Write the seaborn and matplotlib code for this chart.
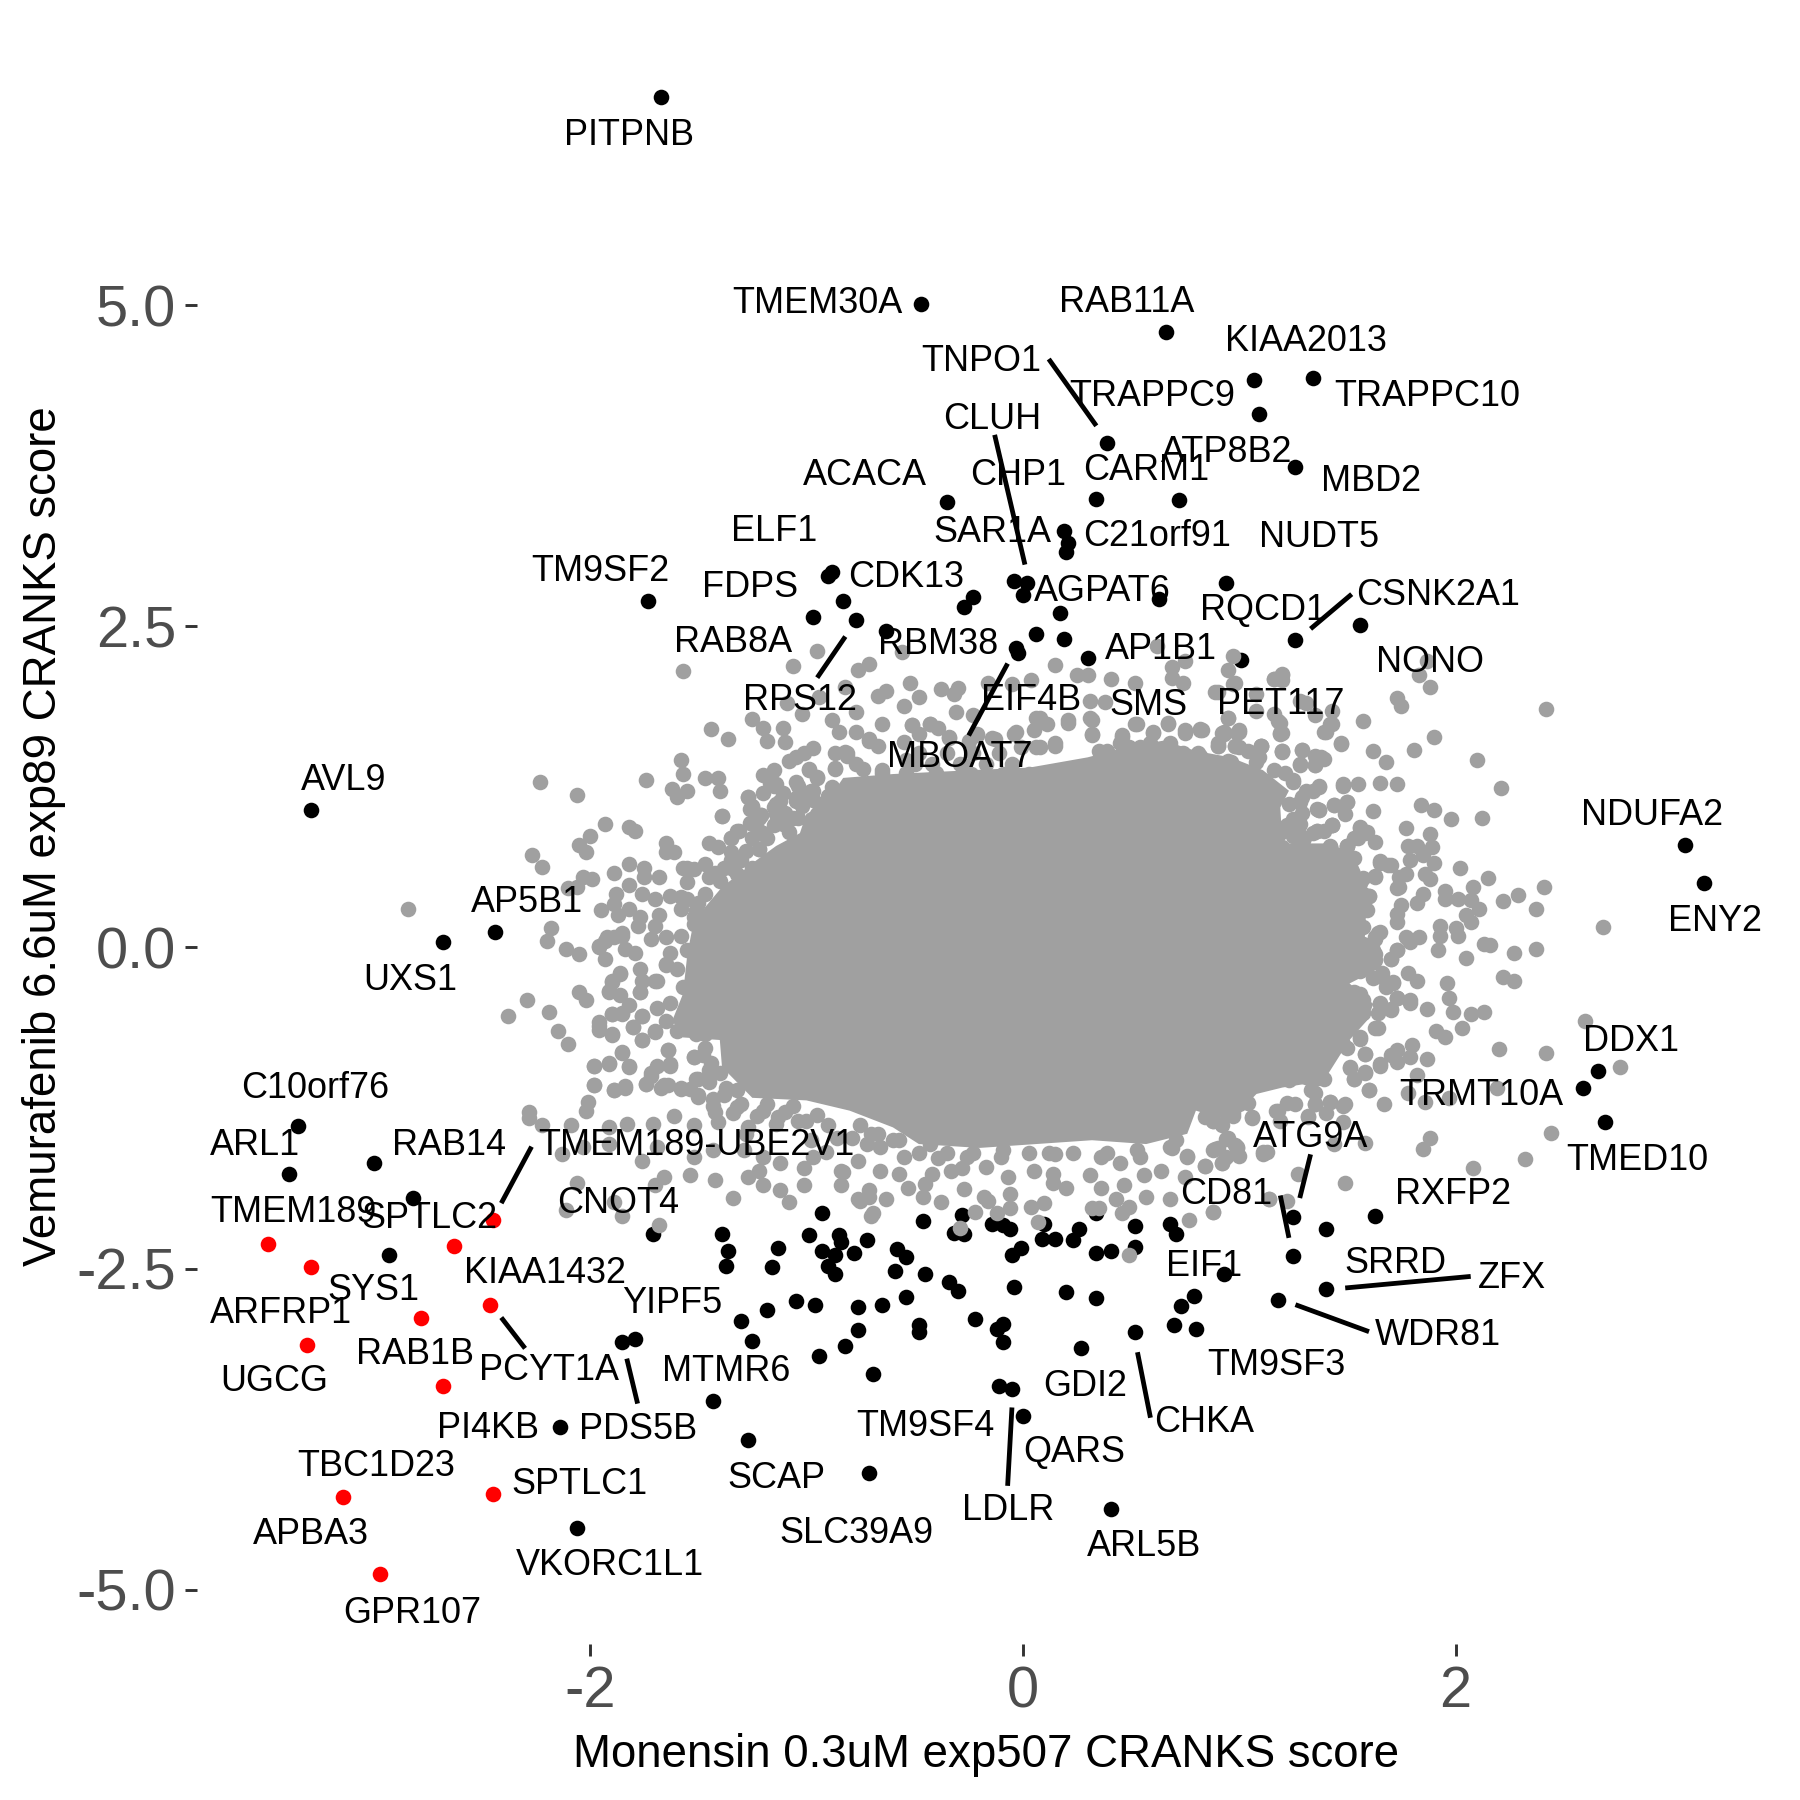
"""
Monensin vs Vemurafenib CRANKS score scatter
"""

import pandas as pd
import matplotlib
matplotlib.use('Agg')
import matplotlib.pyplot as plt
import seaborn as sns

# outline of the solid centre of the cloud, where single genes cannot be told apart
core_outline = [
    (-1.57, -.36), (-1.55, -.05), (-1.52, .21), (-1.39, .47), (-1.23, .68), (-1.14, .79), (-1.03, .89), (-1.00, 1.04),
    (-.91, 1.12), (-.83, 1.32), (-.60, 1.35), (-.24, 1.38), (.03, 1.40), (.30, 1.48), (.48, 1.56), (.65, 1.61),
    (.80, 1.53), (.96, 1.48), (1.11, 1.38), (1.23, 1.22), (1.19, 1.09), (1.20, .81), (1.39, .81), (1.52, .75),
    (1.56, .60), (1.59, .39), (1.58, .05), (1.65, -.16), (1.51, -.28), (1.62, -.44), (1.59, -.57), (1.51, -.72),
    (1.39, -1.04), (1.20, -1.09), (1.08, -1.14), (.96, -1.35), (.80, -1.27), (.76, -1.45), (.57, -1.53), (.32, -1.50),
    (.06, -1.53), (-.20, -1.56), (-.48, -1.53), (-.60, -1.40), (-.80, -1.27), (-1.00, -1.19), (-1.25, -1.17), (-1.39, -.93),
    (-1.40, -.72), (-1.57, -.70), (-1.62, -.57),
]

# grey genes around the centre
grey_points = [
    (-1.57, 2.15), (-.95, 2.31), (-1.06, 2.19), (-.76, 2.16), (-.71, 2.21), (-.82, 2.03), (-1.25, 1.78), (-1.20, 1.71),
    (-1.18, 1.61), (-1.11, 1.71), (-1.10, 1.60), (-1.44, 1.70), (-1.36, 1.62), (-1.02, 1.82), (-1.09, 1.90), (-.94, 1.95),
    (-.88, 1.77), (-.85, 1.68), (-.77, 1.83), (-.77, 1.68), (-.71, 1.61), (-1.58, 1.46), (-1.57, 1.35), (-1.62, 1.23),
    (-1.60, 1.17), (-1.55, 1.22), (-1.74, 1.30), (-2.23, 1.29), (-2.06, 1.19), (-1.47, 1.32), (-1.41, 1.32), (-1.40, 1.22),
    (-1.39, 1.02), (-1.93, .96), (-2.00, .87), (-2.05, .80), (-2.02, .74), (-1.82, .94), (-1.79, .91), (-1.65, .81),
    (-1.61, .74), (-1.65, .74), (-2.27, .72), (-2.22, .63), (-1.82, .65), (-1.89, .58), (-1.75, .62), (-1.75, .55),
    (-1.68, .55), (-2.03, .55), (-1.99, .53), (-2.10, .46), (-2.06, .47), (-1.82, .49), (-1.88, .42), (-1.76, .42),
    (-1.89, .34), (-1.95, .29), (-1.70, .38), (-1.63, .40), (-1.82, .30), (-1.87, .25), (-1.77, .24), (-1.68, .25),
    (-1.78, .17), (-1.70, .17), (-1.72, .07), (-1.65, .08), (-2.18, .15), (-2.20, .05), (-2.84, .30), (-2.11, -.01),
    (-2.05, -.05), (-1.96, 0), (-1.92, .08), (-1.85, .09), (-1.93, -.09), (-1.84, -.01), (-1.79, -.04), (-1.77, -.17),
    (-1.86, -.20), (-1.90, -.27), (-1.91, -.35), (-1.77, -.35), (-1.70, -.26), (-1.65, -.13), (-1.63, -.04), (-1.58, .09),
    (-1.52, .24), (-1.58, .39), (-1.57, .62), (-1.47, .65), (-1.55, .51), (-1.45, .81), (-1.35, .85), (-1.32, .91),
    (-1.22, 1.01), (-1.27, 1.17), (-1.26, 1.08), (-1.20, 1.20), (-1.20, 1.34), (-1.15, 1.38), (-1.14, 1.27), (-1.05, 1.29),
    (-1.08, 1.45), (-1.05, 1.48), (-.97, 1.55), (-1.01, 1.51), (-.87, 1.51), (-.99, 1.39), (-.95, 1.33), (-.87, 1.40),
    (-.81, 1.51), (-.97, 1.22), (-1.12, 1.14), (-1.05, 1.14), (-1.14, 1.04), (-1.06, 1.01), (-.95, 1.04), (-1.22, .77),
    (-1.20, .88), (-1.35, .68), (-1.32, .57),
    (.97, 2.27), (.95, 2.16), (.97, 2.05), (.89, 1.99), (1.16, 2.09), (1.20, 2.12), (1.20, 2.08), (1.87, 2.23),
    (1.83, 2.12), (1.88, 2.03), (1.73, 1.94), (1.75, 1.88), (2.42, 1.86), (1.57, 1.76), (1.90, 1.64), (1.81, 1.54),
    (2.10, 1.46), (1.62, 1.53), (1.68, 1.44), (2.21, 1.24), (1.47, 1.58), (1.42, 1.74), (1.39, 1.68), (1.43, 1.84),
    (1.35, 1.81), (1.28, 1.92), (1.31, 1.90), (1.08, 1.97), (1.08, 1.84), (.95, 1.79), (1.16, 1.82), (1.18, 1.76),
    (1.19, 1.66), (1.00, 1.68), (.93, 1.66), (.83, 1.69), (.90, 1.57), (1.10, 1.57), (.98, 1.57), (1.20, 1.52),
    (1.29, 1.54), (1.36, 1.48), (1.38, 1.48), (1.28, 1.43), (1.35, 1.42), (1.48, 1.27), (1.55, 1.27), (1.65, 1.28),
    (1.73, 1.27), (1.25, 1.29), (1.37, 1.25), (1.31, 1.22), (1.28, 1.13), (1.44, 1.11), (1.50, 1.13), (1.49, 1.04),
    (1.36, 1.08), (1.62, 1.06), (1.84, 1.11), (1.90, 1.07), (1.98, 1.00), (2.12, 1.01), (1.77, .93), (1.88, .88),
    (1.43, .95), (1.56, .94), (1.27, .95), (1.36, .91), (1.59, .90), (1.63, .82), (1.55, .85), (1.29, .81),
    (1.42, .78), (1.50, .79), (1.78, .79), (1.82, .79), (1.89, .78), (1.85, .72), (1.79, .68), (1.90, .66),
    (2.02, .62), (1.65, .67), (1.70, .64), (2.15, .54), (2.41, .47), (1.77, .57), (1.74, .55), (1.63, .55),
    (1.86, .57), (1.88, .53), (2.08, .47), (1.95, .44), (1.95, .38), (2.01, .38), (2.07, .37), (2.29, .41),
    (2.22, .36), (2.37, .30), (2.11, .30), (1.85, .42), (1.82, .35), (1.74, .47), (1.73, .46), (1.75, .33),
    (1.73, .26), (1.73, .20), (1.60, .40), (2.05, .25), (2.07, .20), (1.93, .17), (1.93, .09), (2.00, .15),
    (2.01, .09), (2.68, .16), (2.13, .03), (2.16, .02), (2.27, -.04), (2.37, -.01), (2.05, -.08), (1.92, -.02),
    (1.65, .12), (1.63, .07), (1.77, .08), (1.83, .08), (1.79, .04), (1.73, -.02), (1.70, -.09), (1.62, -.02),
    (1.63, -.10), (2.22, -.23), (2.27, -.26), (1.78, -.20), (1.82, -.26), (1.96, -.28), (1.97, -.39), (1.56, -.18),
    (1.66, -.23), (1.71, -.28), (1.56, -.36), (1.73, -.39), (1.79, -.41), (1.56, .50), (1.51, .68), (1.46, .60),
    (1.59, .29), (1.56, .17), (1.57, .03), (1.50, .31), (1.51, -.10),
    (1.99, -.50), (2.07, -.52), (2.13, -.50), (2.03, -.63), (1.91, -.65), (1.95, -.70), (1.87, -.48), (1.79, -.43),
    (2.60, -.57), (2.20, -.79), (2.42, -.82), (2.76, -.93), (1.80, -.76), (1.73, -.80), (1.70, -.84), (1.73, -.89),
    (1.79, -.85), (1.87, -.87), (1.58, -.83), (1.65, -.92), (1.51, -.94), (1.53, -1.02), (1.58, -.98), (1.82, -.99),
    (1.60, -1.11), (1.67, -1.22), (1.78, -1.13), (1.86, -1.20), (1.97, -1.17), (2.19, -1.09), (1.49, -1.22), (1.42, -1.20),
    (1.35, -1.22), (1.40, -1.29), (1.32, -1.31), (1.48, -1.36), (1.44, -1.53), (1.58, -1.52), (1.88, -1.48), (1.85, -1.57),
    (2.44, -1.44), (2.32, -1.65), (2.08, -1.72), (1.49, -1.83), (1.27, -1.76), (1.22, -1.97), (1.14, -1.96), (.88, -2.06),
    (.92, -1.68), (.84, -1.70), (1.11, -1.59), (1.13, -1.59), (.99, -1.55), (1.00, -1.62), (.95, -1.48), (.89, -1.57),
    (1.06, -1.32), (1.17, -1.27), (1.26, -1.22), (1.19, -1.35), (.97, -1.29), (.88, -1.35), (1.35, -1.02), (1.33, -1.11),
    (1.56, -.70), (1.63, -.63), (1.65, -.44), (1.70, -.49), (1.73, -.39), (1.50, -.78), (1.39, -.80), (1.25, -.66),
    (-2.38, -.53), (-2.29, -.41), (-2.19, -.50), (-2.15, -.65), (-2.10, -.75), (-2.05, -.35), (-2.02, -.41), (-1.96, -.58),
    (-1.96, -.64), (-1.90, -.67), (-1.90, -.52), (-1.85, -.52), (-1.80, -.62), (-1.76, -.72), (-1.70, -.65), (-1.76, -.53),
    (-1.85, -.81), (-1.91, -.91), (-1.98, -.92), (-1.82, -.92), (-1.98, -1.07), (-1.89, -1.11), (-1.84, -1.09), (-1.74, -1.06),
    (-1.72, -.98), (-1.66, -1.07), (-1.63, -.91), (-1.64, -.80), (-1.58, -1.10), (-1.50, -1.02), (-1.50, -1.16), (-1.52, -.85),
    (-1.43, -1.23), (-2.01, -1.20), (-2.02, -1.27), (-2.28, -1.28), (-2.28, -1.33), (-2.22, -1.38), (-2.09, -1.38), (-1.91, -1.40),
    (-1.83, -1.37), (-1.71, -1.37), (-1.61, -1.31), (-1.52, -1.38), (-1.41, -1.36), (-2.13, -1.61), (-2.03, -1.55), (-1.91, -1.53),
    (-1.76, -1.66), (-1.69, -1.55), (-1.52, -1.63), (-1.54, -1.77), (-1.66, -1.79), (-1.70, -1.85), (-2.06, -1.83), (-1.89, -1.98),
    (-2.11, -2.04), (-1.85, -2.09), (-1.68, -2.16), (-1.42, -1.81), (-1.34, -1.95), (-1.43, -1.58), (-1.29, -1.58), (-1.27, -1.79),
    (-1.20, -1.85), (-1.22, -1.74), (-1.12, -1.68), (-1.20, -1.63), (-1.12, -1.89), (-1.08, -1.98), (-1.01, -1.85), (-1.01, -1.72),
    (-.97, -1.63), (-.91, -1.59), (-.84, -1.74), (-.84, -1.85), (-.76, -1.66), (-.76, -1.96), (-.71, -1.89), (-.69, -2.07),
    (-1.32, -1.24), (-1.23, -1.31), (-1.13, -1.32), (-1.06, -1.23), (-1.14, -1.03), (-1.00, -1.35), (-1.27, -1.40),
    (-.83, -1.75), (-.71, -1.94), (-.66, -1.74), (-.63, -1.96), (-.70, -2.09), (-.75, -1.97), (-.57, -1.76), (-.53, -1.87),
    (-.42, -1.76), (-.45, -1.84), (-.46, -1.94), (-.38, -1.98), (-.39, -1.64), (-.33, -1.74), (-.28, -1.72), (-.27, -1.88),
    (-.18, -1.94), (-.16, -1.97), (-.22, -2.06), (-.12, -2.07), (-.06, -2.03), (-.06, -1.92), (-.07, -1.79), (-.17, -1.71),
    (-.29, -2.18), (.05, -1.74), (.04, -2.02), (.10, -1.99), (.07, -2.14), (.14, -1.76), (.14, -1.83), (.20, -1.87),
    (.31, -1.77), (.36, -1.87), (.32, -2.03), (.35, -2.03), (.47, -1.85), (.43, -1.96), (.49, -2.02), (.46, -2.07),
    (.57, -1.94), (.49, -2.39), (.64, -1.74), (.56, -1.77), (.76, -1.63), (.84, -1.70), (.92, -1.68), (.75, -1.79),
    (.68, -1.96), (.77, -2.12), (.88, -2.06), (1.14, -1.96), (1.11, -1.61), (.88, -1.58), (.98, -1.54), (.15, -1.61),
    (-.26, -1.63), (-.55, -1.63), (.36, -1.63), (.54, -1.63), (.68, -1.55), (.45, -1.68), (-.10, -1.63), (-.66, -1.55),
    (-.43, -1.53),
    (-.56, 2.30), (-.52, 2.06), (-.63, 2.00), (-.67, 1.96), (-.48, 1.95), (-.38, 2.01), (-.30, 2.02), (-.32, 1.97),
    (-.16, 2.06), (-.05, 2.05), (.04, 2.08), (.15, 2.20), (.25, 2.12), (.30, 2.12), (.41, 2.09), (.52, 2.06),
    (.62, 2.35), (.69, 2.18), (.75, 2.23), (.69, 2.10), (.74, 2.06), (.90, 1.99), (.98, 2.06), (1.16, 2.09),
    (1.20, 2.13), (-.55, 1.88), (-.31, 1.83), (-.23, 1.81), (-.51, 1.73), (-.65, 1.74), (-.43, 1.74), (-.34, 1.64),
    (-.21, 1.66), (-.03, 1.68), (.06, 1.79), (.21, 1.77), (.31, 1.79), (.32, 1.66), (.38, 1.91), (.31, 1.92),
    (.52, 1.74), (.67, 1.74), (.46, 1.65), (.60, 1.68), (.75, 1.69), (.82, 1.69), (.90, 1.59), (.95, 1.79),
    (.93, 1.68), (1.00, 1.69), (1.10, 1.57), (1.19, 1.75), (1.20, 1.67), (1.20, 1.53), (1.00, 1.56), (.15, 1.59),
    (.68, 1.59), (.45, 1.59), (-.13, 1.62), (-.71, 1.62), (-.67, 1.57), (-.82, 1.52), (-.65, 1.38), (-.50, 1.43),
    (-.27, 1.42), (.06, 1.56), (.35, 1.53), (.54, 1.56), (.81, 1.51), (1.09, 1.48), (.95, 1.45),
]

# grey genes in the crowded band right next to the centre
grey_band_points = [
    (-1.55, .62), (-1.52, .61), (-1.42, .58), (-1.55, .38), (-1.58, .30), (-1.51, .29), (-1.52, .18), (-1.48, .23),
    (-1.85, .11), (-1.89, .08), (-1.93, .05), (-1.96, .01), (-1.65, -.14), (-1.60, -.17), (-1.55, -.02), (-1.52, -.16),
    (-1.57, -.31), (-1.69, -.26), (-1.76, -.26), (-1.77, -.35), (-1.86, -.21), (-1.90, -.26), (-1.91, -.34), (-1.86, -.37),
    (-1.90, -.52), (-1.85, -.51), (-1.82, -.45), (-1.76, -.53), (-1.80, -.62), (-1.69, -.47), (-1.63, -.43), (-1.65, -.57),
    (-1.55, -.51), (-1.60, -.65), (-1.48, -.51), (-1.51, -.67), (-1.47, -.67), (-1.70, -.66), (-1.76, -.72), (-1.90, -.68),
    (-1.96, -.61), (-1.85, -.82), (-1.82, -.93), (-1.91, -.90), (-1.98, -.92), (-1.98, -1.07), (-1.89, -1.11), (-1.84, -1.08),
    (-1.64, -.80), (-1.69, -.92), (-1.63, -.92), (-1.72, -1.00), (-1.74, -1.06), (-1.67, -1.09), (-1.64, -1.07), (-1.58, -1.09),
    (-1.51, -1.02), (-1.52, -.85), (-1.48, -.84), (-1.54, -1.10), (-1.50, -1.15), (-1.43, -1.18), (-1.44, -.90), (-1.40, -.98),
    (-1.32, -1.11), (-1.15, -1.03), (-1.25, 1.10), (-1.21, 1.03), (-1.26, .97), (-1.41, .78), (-1.35, .74), (-1.22, .91),
    (-1.25, .62), (-1.34, .61), (-1.30, .47), (-1.40, .52), (-1.14, 1.12), (-1.11, 1.20), (-1.04, 1.26), (-1.17, 1.28),
    (-1.00, 1.17), (-1.04, 1.01),
    (-.81, 1.49), (-.77, 1.43), (-.74, 1.39), (-.87, 1.39), (-.99, 1.38), (-.95, 1.32), (-1.15, 1.26), (-1.27, 1.17),
    (-1.25, 1.09), (-1.21, 1.03), (-1.05, 1.16), (-1.15, 1.09), (-.98, 1.22), (-.94, 1.12), (-.97, 1.00), (-1.11, .96),
    (-1.39, 1.02), (-.65, 1.36), (-1.22, .77), (-1.31, .91), (-1.35, .85), (-1.20, .89), (-.48, 1.66), (-.43, 1.74),
    (-.39, 1.71), (-.51, 1.73), (-.55, 1.60), (-.34, 1.63), (-.25, 1.61), (-.21, 1.65), (-.14, 1.63), (-.04, 1.66),
    (.05, 1.69), (-.01, 1.56), (-.48, 1.51), (-.35, 1.51), (-.23, 1.51), (-.11, 1.51), (-.54, 1.46), (-.42, 1.43),
    (-.29, 1.43), (-.17, 1.43), (-.05, 1.43), (-.54, 1.36), (-.40, 1.36), (-.24, 1.35), (-.09, 1.35), (.03, 1.35),
    (.32, 1.65), (.32, 1.77), (.21, 1.75), (.15, 1.57), (.08, 1.56), (.11, 1.74), (.08, 1.79), (.53, 1.74),
    (.46, 1.64), (.67, 1.75), (.60, 1.67), (.75, 1.67), (.82, 1.70), (.92, 1.67), (.99, 1.67), (.90, 1.57),
    (.98, 1.57), (1.04, 1.53), (1.10, 1.57), (1.19, 1.67), (1.20, 1.53), (1.29, 1.54), (1.35, 1.49), (1.39, 1.47),
    (1.28, 1.42), (1.35, 1.42), (1.47, 1.59), (1.40, 1.68), (1.43, 1.74), (1.48, 1.26), (1.37, 1.26), (1.34, 1.22),
    (1.29, 1.17), (1.25, 1.30), (1.16, 1.38), (1.21, 1.36), (1.08, 1.44), (.96, 1.44), (.88, 1.40), (.74, 1.51),
    (.82, 1.49), (.68, 1.57), (.59, 1.59), (.49, 1.56), (.39, 1.53), (1.44, 1.11), (1.50, 1.13), (1.37, 1.07),
    (1.27, .93), (1.29, 1.05), (1.43, .95), (1.34, .89), (1.39, .91), (1.29, .81), (1.42, .78), (1.50, .79),
    (1.34, .73), (1.19, .89), (1.20, .78), (1.14, .97),
    (1.56, .93), (1.58, .89), (1.53, .85), (1.50, .79), (1.43, .95), (1.36, .91), (1.37, 1.07), (1.28, .96),
    (1.26, .91), (1.29, .81), (1.42, .79), (1.36, .73), (1.53, .70), (1.65, .66), (1.69, .64), (1.63, .56),
    (1.57, .54), (1.60, .40), (1.57, .42), (1.57, .30), (1.57, .16), (1.64, .11), (1.63, .08), (1.63, -.05),
    (1.73, -.02), (1.70, -.09), (1.58, -.08), (1.66, -.20), (1.71, -.27), (1.62, -.24), (1.68, -.31), (1.73, -.39),
    (1.65, -.43), (1.70, -.48), (1.64, -.51), (1.57, -.41), (1.53, -.35), (1.64, -.63), (1.56, -.71), (1.57, -.51),
    (1.58, -.83), (1.51, -.93), (1.58, -.97), (1.53, -1.02), (1.65, -.91), (1.60, -1.11), (1.48, -.75), (1.42, -.79),
    (1.37, -1.01), (1.31, -1.01), (1.35, -1.13), (1.23, -1.03), (1.36, -.82), (1.27, -.67), (1.23, -.75), (1.13, -1.03),
    (-1.34, -1.29), (-1.28, -1.45), (-1.20, -1.27), (-1.14, -1.37), (-1.04, -1.35), (-.98, -1.50), (-.86, -1.48), (-.79, -1.48),
    (-.72, -1.53), (-.67, -1.45), (-.57, -1.50), (-.48, -1.60), (-.35, -1.60), (-.23, -1.60), (-.09, -1.58), (.03, -1.60),
    (-1.37, -1.09), (-1.23, -1.09), (.12, -1.60), (.23, -1.60), (.39, -1.60), (.53, -1.58), (.71, -1.50), (.76, -1.62),
    (.69, -1.56), (.88, -1.35), (.97, -1.31), (1.06, -1.33), (1.18, -1.27), (1.22, -1.21), (1.32, -1.32), (1.36, -1.01),
    (1.39, -1.02), (1.35, -1.22), (1.42, -1.20), (1.48, -1.23), (.94, -1.49), (.90, -1.56), (.99, -1.56), (.94, -1.63),
    (1.04, -1.21), (1.11, -1.03), (1.20, -.98),
    (-1.10, 1.05), (-1.02, 1.10), (-.97, 1.15), (-.90, 1.18), (-.88, 1.25), (-1.08, .90), (-1.15, .95), (-1.18, .85),
    (-1.28, .75), (-1.30, .68), (-1.38, .62), (-1.45, .55), (-1.47, .42), (-1.50, .35), (-.85, 1.05), (-1.25, .85),
    (-1.45, -1.05), (-1.38, -1.15), (-1.30, -1.22), (-1.42, -1.28), (-1.18, -1.22), (-1.10, -1.28), (-.95, -1.30), (-.90, -1.38),
    (-.75, -1.38), (-.70, -1.45), (-.60, -1.50), (-1.47, -.78), (-1.45, -.95),
    (1.25, 1.00), (1.22, .95), (1.25, .87), (1.30, .85), (1.23, 1.12), (.92, -1.38), (.84, -1.32), (1.00, -1.22),
]

# black genes, labelled or not
black_points = [
    (-1.67, 6.62), (-.47, 5.01), (.66, 4.79), (1.07, 4.42), (1.34, 4.43), (1.09, 4.15), (.39, 3.93), (1.26, 3.74),
    (.72, 3.48), (.34, 3.49), (-.35, 3.47), (.19, 3.24), (.21, 3.15), (.20, 3.08), (.94, 2.84), (-.04, 2.85),
    (.02, 2.84), (0, 2.74), (.17, 2.60), (.63, 2.71), (-.90, 2.89), (-.88, 2.92), (-1.73, 2.70), (-.97, 2.57),
    (-.23, 2.73), (-.27, 2.65), (-.83, 2.70), (-.77, 2.55), (-.63, 2.46), (.06, 2.44), (.19, 2.40), (-.03, 2.33),
    (-.02, 2.29), (.30, 2.25), (1.56, 2.51), (1.26, 2.39), (1.01, 2.24), (-3.29, 1.07), (-2.44, .12), (-2.68, .04),
    (3.06, .80), (3.15, .50), (2.66, -.96), (2.59, -1.09), (2.69, -1.36), (-3.35, -1.39), (-3.39, -1.76), (-3.00, -1.68),
    (-2.82, -1.95), (-2.93, -2.39), (-1.71, -2.23),
    (-.93, -2.07), (-.46, -2.13), (-.28, -2.08), (-.32, -2.22), (-.27, -2.23), (-.14, -2.15), (-.09, -2.16), (-.06, -2.19),
    (.10, -2.15), (.09, -2.27), (.15, -2.27), (.23, -2.28), (.26, -2.19), (.34, -2.07), (.52, -2.17), (.52, -2.33),
    (.41, -2.36), (.34, -2.38), (-.01, -2.34), (-.05, -2.39), (.68, -2.15), (.71, -2.23), (.93, -2.54), (1.25, -2.40),
    (1.25, -2.10), (1.18, -2.74), (.79, -2.71), (.73, -2.79), (.70, -2.94), (.80, -2.97), (.52, -2.99), (.34, -2.73),
    (.20, -2.68), (-.04, -2.64), (.27, -3.12), (-.09, -2.93), (-.12, -2.97), (-.09, -3.07), (-.22, -2.89), (-.48, -2.94),
    (-.48, -2.99), (-.76, -2.98), (-.76, -2.80), (-.65, -2.78), (-.54, -2.72), (-.45, -2.54), (-.34, -2.60), (-.30, -2.67),
    (-.59, -2.52), (-.54, -2.41), (-.58, -2.35), (-.72, -2.28), (-.78, -2.38), (-.87, -2.39), (-.93, -2.36), (-.99, -2.24),
    (-.85, -2.24), (-.84, -2.29), (-1.13, -2.34), (-1.16, -2.49), (-1.39, -2.23), (-1.36, -2.36), (-1.37, -2.48), (-.90, -2.48),
    (-.87, -2.54), (-1.18, -2.82), (-1.05, -2.75), (-.96, -2.78), (-1.30, -2.91), (-1.25, -3.06), (-.82, -3.10),
    (-1.85, -3.07), (-1.79, -3.05), (-.94, -3.18), (-.69, -3.32), (-.11, -3.41), (-.05, -3.44), (0, -3.65), (-1.43, -3.53),
    (-1.27, -3.83), (-.71, -4.09), (-2.14, -3.73), (-2.06, -4.52), (.41, -4.37), (1.40, -2.19), (1.63, -2.09), (1.40, -2.66),
]

# red genes
red_points = [
    (-3.49, -2.31), (-3.29, -2.49), (-2.63, -2.32), (-2.45, -2.12), (-2.46, -2.78), (-2.78, -2.88), (-3.31, -3.09),
    (-2.68, -3.41), (-3.14, -4.28), (-2.45, -4.25), (-2.97, -4.88),
]

gene_labels = [
    ('PITPNB', -1.82, 6.34), ('TMEM30A', -.95, 5.03), ('RAB11A', .48, 5.04), ('KIAA2013', 1.31, 4.74),
    ('TNPO1', -.19, 4.58), ('TRAPPC10', 1.87, 4.31), ('TRAPPC9', .60, 4.31), ('CLUH', -.14, 4.13),
    ('ATP8B2', .94, 3.87), ('ACACA', -.73, 3.69), ('CHP1', -.02, 3.69), ('CARM1', .57, 3.73),
    ('MBD2', 1.61, 3.65), ('ELF1', -1.15, 3.26), ('SAR1A', -.14, 3.25), ('C21orf91', .62, 3.22),
    ('NUDT5', 1.37, 3.21), ('TM9SF2', -1.95, 2.95), ('FDPS', -1.26, 2.82), ('CDK13', -.54, 2.90),
    ('AGPAT6', .37, 2.79), ('CSNK2A1', 1.92, 2.76), ('RQCD1', 1.11, 2.64), ('RAB8A', -1.34, 2.39),
    ('RBM38', -.39, 2.38), ('AP1B1', .64, 2.34), ('NONO', 1.88, 2.24), ('RPS12', -1.03, 1.94),
    ('EIF4B', .04, 1.94), ('SMS', .58, 1.90), ('PET117', 1.19, 1.91), ('MBOAT7', -.29, 1.50),
    ('AVL9', -3.14, 1.32), ('NDUFA2', 2.91, 1.05), ('AP5B1', -2.29, .37), ('ENY2', 3.20, .22),
    ('UXS1', -2.83, -.24), ('DDX1', 2.81, -.71), ('C10orf76', -3.27, -1.08), ('TRMT10A', 2.12, -1.13),
    ('ATG9A', 1.33, -1.46), ('ARL1', -3.55, -1.52), ('RAB14', -2.65, -1.52), ('TMEM189-UBE2V1', -1.51, -1.52),
    ('TMED10', 2.84, -1.64), ('RXFP2', 1.99, -1.90), ('CD81', .94, -1.90), ('CNOT4', -1.87, -1.97),
    ('TMEM189', -3.37, -2.04), ('SPTLC2', -2.74, -2.09), ('EIF1', .84, -2.46), ('SRRD', 1.72, -2.44),
    ('KIAA1432', -2.21, -2.52), ('ZFX', 2.26, -2.56), ('SYS1', -3.00, -2.65), ('YIPF5', -1.62, -2.75),
    ('ARFRP1', -3.43, -2.83), ('WDR81', 1.92, -3.00), ('RAB1B', -2.81, -3.15), ('TM9SF3', 1.17, -3.23),
    ('PCYT1A', -2.19, -3.27), ('MTMR6', -1.37, -3.28), ('UGCG', -3.46, -3.36), ('GDI2', .29, -3.40),
    ('CHKA', .84, -3.68), ('TM9SF4', -.45, -3.71), ('PI4KB', -2.47, -3.72), ('PDS5B', -1.78, -3.73),
    ('QARS', .24, -3.91), ('TBC1D23', -2.99, -4.02), ('SCAP', -1.14, -4.11), ('SPTLC1', -2.05, -4.16),
    ('LDLR', -.07, -4.36), ('SLC39A9', -.77, -4.54), ('APBA3', -3.29, -4.55), ('ARL5B', .56, -4.64),
    ('VKORC1L1', -1.91, -4.79), ('GPR107', -2.82, -5.16),
]

# connector lines from the labels to their points
label_segments = [
    (.12, 4.58, .34, 4.06), (-.13, 3.99, .01, 2.98), (-.95, 2.10, -.82, 2.42), (-.25, 1.65, -.07, 2.21),
    (1.33, 2.48, 1.52, 2.75), (-2.41, -1.99, -2.27, -1.55), (1.28, -1.95, 1.33, -1.61), (1.19, -1.93, 1.23, -2.26),
    (1.49, -2.65, 2.07, -2.56), (1.26, -2.78, 1.60, -2.99), (-2.41, -2.88, -2.30, -3.12), (-1.83, -3.20, -1.78, -3.55),
    (.53, -3.15, .59, -3.66), (-.05, -3.58, -.07, -4.19),
]

x_ticks = [-2, 0, 2]
y_ticks = [-5.0, -2.5, 0.0, 2.5, 5.0]


def points_frame(points):
    """Turn a list of (x, y) points into a dataframe"""
    return pd.DataFrame(points, columns=['monensin', 'vemurafenib'])


def main():
    sns.set_theme(style='white')
    plt.rcParams['font.family'] = ['Liberation Sans', 'DejaVu Sans']

    fig = plt.figure(figsize=(6, 6), dpi=300)
    ax = fig.add_axes([172 / 1568, 1 - 1432 / 1568, (1546 - 172) / 1568, (1432 - 24) / 1568])

    grey = '#A0A0A0'
    dot = dict(s=14, linewidth=0, legend=False, ax=ax)

    sns.scatterplot(data=points_frame(black_points), x='monensin', y='vemurafenib', color='black', zorder=2, **dot)
    ax.fill(*zip(*core_outline), color=grey, linewidth=0, zorder=3)
    sns.scatterplot(data=points_frame(grey_points + grey_band_points), x='monensin', y='vemurafenib',
                    color=grey, zorder=3, **dot)
    sns.scatterplot(data=points_frame(red_points), x='monensin', y='vemurafenib', color='#FF0000', zorder=4, **dot)

    for x1, y1, x2, y2 in label_segments:
        ax.plot([x1, x2], [y1, y2], color='black', lw=1.15, solid_capstyle='butt', zorder=5)

    for name, x, y in gene_labels:
        ax.text(x, y - 0.02, name, fontsize=8.65, color='black', ha='center', va='center', zorder=6)

    ax.set_xlim(-3.814, 3.475)
    ax.set_ylim(-5.42, 7.16)
    ax.set_xticks(x_ticks)
    ax.set_xticklabels([str(t) for t in x_ticks])
    ax.set_yticks(y_ticks)
    ax.set_yticklabels([f'{t:.1f}' for t in y_ticks])
    ax.tick_params(axis='both', labelsize=13.9, labelcolor='#4D4D4D', color='#333333',
                   length=2.9, width=0.7, bottom=True, left=True, pad=2.2)
    ax.set_xlabel('Monensin 0.3uM exp507 CRANKS score', fontsize=10.95, color='black', labelpad=3.4)
    ax.set_ylabel('Vemurafenib 6.6uM exp89 CRANKS score', fontsize=10.95, color='black', labelpad=2.6)
    sns.despine(ax=ax, left=True, bottom=True)

    fig.savefig('out.png', dpi=300, facecolor='white')
    plt.close(fig)


if __name__ == '__main__':
    main()
